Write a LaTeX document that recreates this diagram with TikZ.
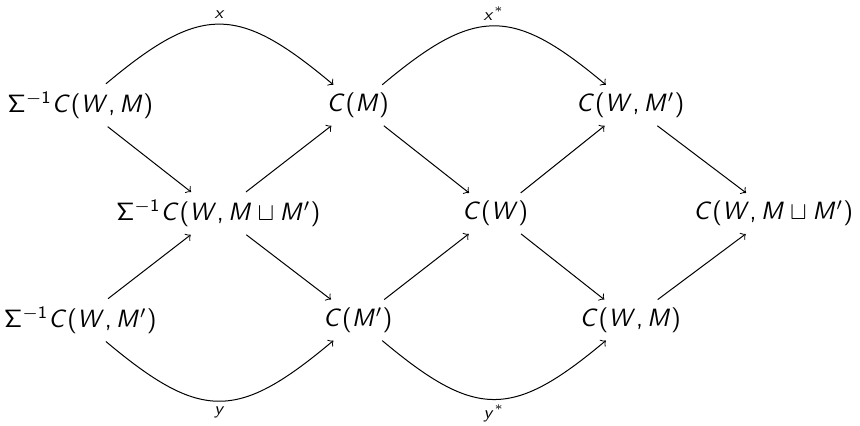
\documentclass[tikz,border=0pt]{standalone}
\usepackage{amsmath}
\usepackage{amssymb}
\usepackage{tikz}
% sans serif math, as in slides
\DeclareSymbolFont{operators}{OT1}{cmss}{m}{n}
\DeclareSymbolFont{letters}{OT1}{cmss}{m}{it}
\DeclareMathSymbol{,}{\mathpunct}{operators}{`,}

\begin{document}
\begin{tikzpicture}[
    every node/.style={inner sep=3pt},
    lbl/.style={font=\scriptsize, inner sep=2pt}
]
\useasboundingbox (0,0) rectangle (12.09,5.98);
\node (sWM) at (1.13,4.50) {$\Sigma^{-1}C(W,M)$};
\node (cM) at (5.03,4.50) {$C(M)$};
\node (cWMp) at (8.86,4.50) {$C(W,M')$};
\node (sWU) at (3.07,2.98) {$\Sigma^{-1}C(W,M\sqcup M')$};
\node (cW) at (6.96,2.98) {$C(W)$};
\node (cWU) at (10.87,2.98) {$C(W,M\sqcup M')$};
\node (sWMp) at (1.13,1.48) {$\Sigma^{-1}C(W,M')$};
\node (cMp) at (5.03,1.48) {$C(M')$};
\node (cWM) at (8.86,1.48) {$C(W,M)$};

\draw[->] (sWM) -- (sWU);
\draw[->] (sWMp) -- (sWU);
\draw[->] (sWU) -- (cM);
\draw[->] (sWU) -- (cMp);
\draw[->] (cM) -- (cW);
\draw[->] (cMp) -- (cW);
\draw[->] (cW) -- (cWMp);
\draw[->] (cW) -- (cWM);
\draw[->] (cWMp) -- (cWU);
\draw[->] (cWM) -- (cWU);

\draw[->] (sWM) to[out=40,in=140,looseness=1.4] node[above,lbl] {$x$} (cM);
\draw[->] (cM) to[out=40,in=140,looseness=1.4] node[above,lbl] {$x^*$} (cWMp);
\draw[->] (sWMp) to[out=-40,in=-140,looseness=1.4] node[below,lbl] {$y$} (cMp);
\draw[->] (cMp) to[out=-40,in=-140,looseness=1.4] node[below,lbl] {$y^*$} (cWM);
\end{tikzpicture}
\end{document}
